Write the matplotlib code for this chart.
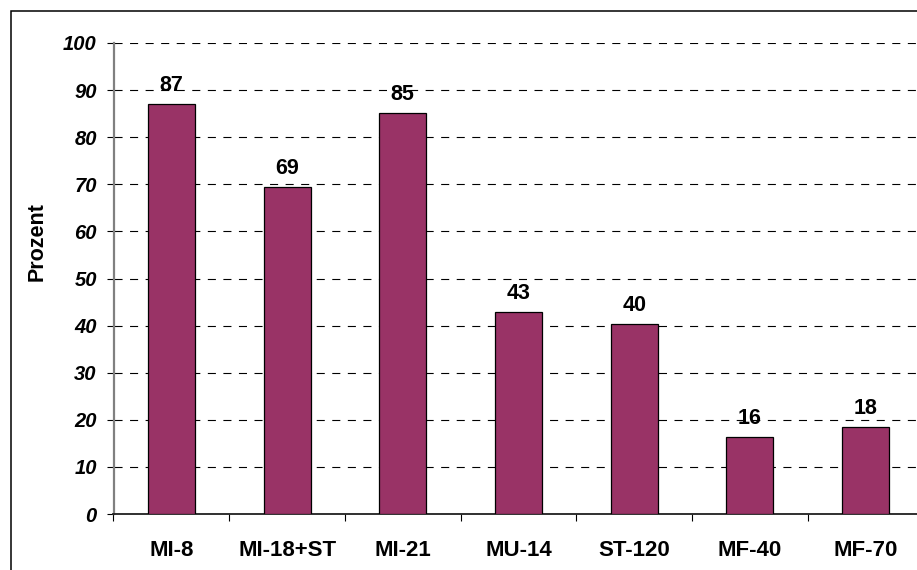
import matplotlib
matplotlib.use("Agg")
import matplotlib.pyplot as plt
from matplotlib.patches import Rectangle
import numpy as np

categories = ["MI-8", "MI-18+ST", "MI-21", "MU-14", "ST-120", "MF-40", "MF-70"]
values = [87.0, 69.4, 85.2, 42.8, 40.3, 16.4, 18.5]
labels = ["87", "69", "85", "43", "40", "16", "18"]
yticks = [0, 10, 20, 30, 40, 50, 60, 70, 80, 90, 100]
ylabel = "Prozent"

plt.rcParams['font.family'] = ['Liberation Sans', 'DejaVu Sans']
plt.rcParams['lines.scale_dashes'] = False

W, H = 917, 570
fig = plt.figure(figsize=(W / 100, H / 100), dpi=100)
fig.patch.set_facecolor("white")

# outer border (chart area, cropped at right/bottom)
fig.patches.append(Rectangle((10.5 / W, -0.05), 1.1, 1 - 10.5 / H + 0.05,
                             transform=fig.transFigure, fill=False,
                             edgecolor="black", linewidth=1.1, zorder=0))

left_px, right_px, top_px, bot_px = 113.5, 923.5, 43, 514
ax = fig.add_axes([left_px / W, 1 - bot_px / H, (right_px - left_px) / W, (bot_px - top_px) / H])
ax.set_facecolor("none")

x = np.arange(len(categories))
ax.bar(x, values, width=0.405, color="#993366", edgecolor="black", linewidth=0.9, zorder=3)

ax.set_xlim(-0.5, len(categories) - 0.5)
ax.set_ylim(0, 100)

ax.set_yticks(yticks)
ax.set_yticklabels([str(t) for t in yticks], fontsize=14.5, fontweight="bold", fontstyle="italic")
ax.yaxis.grid(True, color="black", linewidth=0.8, linestyle=(0, (5.8, 5.4)), zorder=1)
ax.set_axisbelow(True)

ax.set_xticks(np.arange(len(categories) + 1) - 0.5)
ax.set_xticklabels([])
ax.set_xticks(x, minor=True)
ax.set_xticklabels(categories, minor=True, fontsize=16, fontweight="bold")
ax.tick_params(axis="x", which="minor", length=0, pad=18.5)
ax.tick_params(axis="x", which="major", length=5, width=0.8, color="black", direction="out")
ax.tick_params(axis="y", length=5, width=0.8, color="black", direction="out", pad=7)

for s in ["top", "right"]:
    ax.spines[s].set_visible(False)
ax.spines["left"].set_color("#808080")
ax.spines["left"].set_linewidth(1.6)
ax.spines["bottom"].set_color("#202020")
ax.spines["bottom"].set_linewidth(1.3)

for xi, v, lab in zip(x, values, labels):
    ax.annotate(lab, (xi, v), xytext=(0, 9.4), textcoords="offset points",
                ha="center", va="baseline", fontsize=15.5, fontweight="bold", zorder=4)

fig.text(36.7 / W, 1 - 242 / H, ylabel, rotation=90, ha="center", va="center",
         fontsize=15.5, fontweight="bold")

fig.savefig("out.png", dpi=100)
